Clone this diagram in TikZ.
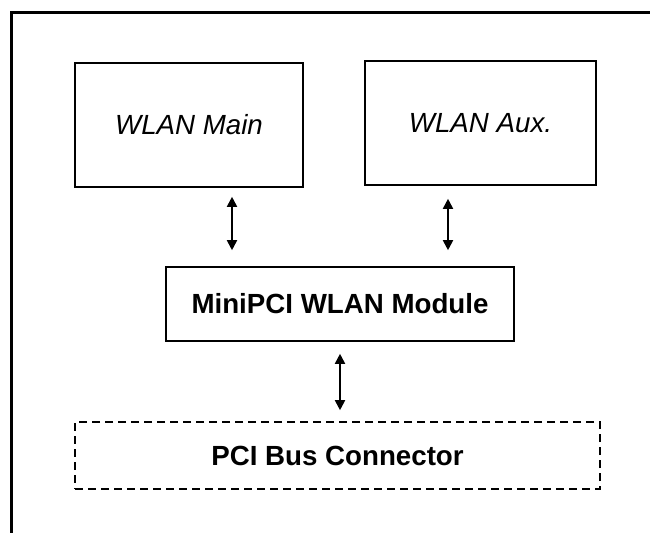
\documentclass[tikz,border=0pt]{standalone}
\usepackage{fontspec}
\setmainfont{Liberation Sans}
\usepackage{tikz}
\usetikzlibrary{arrows.meta, positioning, calc}

\begin{document}
\begin{tikzpicture}[x=1pt, y=-1pt,
            box/.style={rectangle, draw=black, fill=white, line width=1.6pt, inner sep=0pt,
                        font=\fontsize{27.7}{32}\selectfont, align=center},
            wlanbox/.style={box, font=\fontsize{27.7}{32}\selectfont\itshape},
            busbox/.style={box, dash pattern=on 8pt off 5pt, font=\fontsize{27.7}{32}\selectfont\bfseries},
            arrow/.style={{Triangle[length=10pt,width=10pt]}-{Triangle[length=10pt,width=10pt]}, line width=1.8pt, black}
        ]
            \useasboundingbox (0,0) rectangle (650,533);

            % Outer frame
            \draw[line width=3pt] (650,12) -- (11,12) -- (11,533);

            % WLAN antennas
            \node[wlanbox, minimum width=228pt, minimum height=124pt] (main) at (189,125) {WLAN Main};
            \node[wlanbox, minimum width=231pt, minimum height=124pt] (aux) at (480.5,123) {WLAN Aux.};

            % Module
            \node[box, minimum width=348pt, minimum height=74pt, font=\fontsize{27.7}{32}\selectfont\bfseries] (module) at (340,304) {MiniPCI WLAN Module};

            % Bus connector
            \node[busbox, minimum width=525pt, minimum height=67pt] (pci) at (337.5,455.5) {PCI Bus Connector};

            % Arrows
            \draw[arrow, shorten <=9pt, shorten >=16pt] ([xshift=43pt]main.south) -- ([xshift=43pt]main.south |- module.north);
            \draw[arrow, shorten <=13pt, shorten >=16pt] ([xshift=-32.5pt]aux.south) -- ([xshift=-32.5pt]aux.south |- module.north);
            \draw[arrow, shorten <=12pt, shorten >=11pt] (module.south) -- (module.south |- pci.north);
        \end{tikzpicture}
\end{document}
